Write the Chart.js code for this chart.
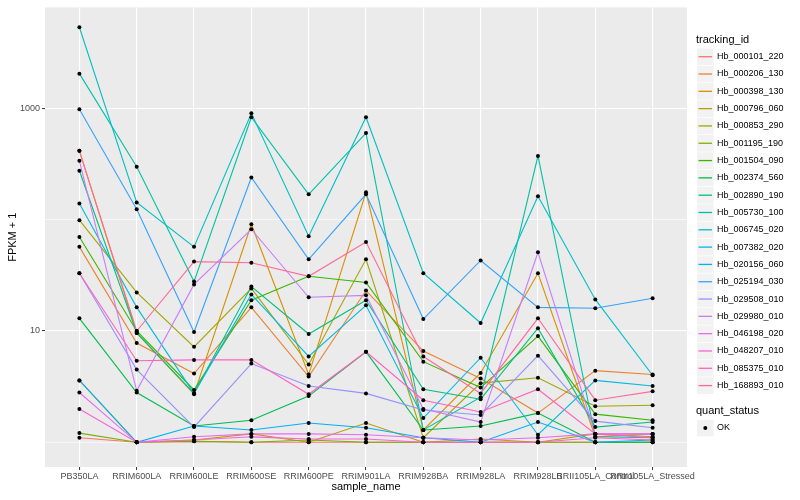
<!DOCTYPE html>
<html>
<head>
<meta charset="utf-8">
<script src="https://cdn.jsdelivr.net/npm/chart.js@4.4.1/dist/chart.umd.min.js"></script>
<style>
  html, body { margin: 0; padding: 0; background: #fff; }
  #wrap { width: 800px; height: 500px; }
</style>
</head>
<body>
<div id="wrap"><canvas id="chart" width="800" height="500"></canvas></div>
<script>
const categories = ['PB350LA', 'RRIM600LA', 'RRIM600LE', 'RRIM600SE', 'RRIM600PE', 'RRIM901LA',
    'RRIM928BA', 'RRIM928LA', 'RRIM928LB', 'RRII105LA_Control', 'RRII105LA_Stressed'];

const trackingIds = ['Hb_000101_220', 'Hb_000206_130', 'Hb_000398_130', 'Hb_000796_060', 'Hb_000853_290',
    'Hb_001195_190', 'Hb_001504_090', 'Hb_002374_560', 'Hb_002890_190', 'Hb_005730_100',
    'Hb_006745_020', 'Hb_007382_020', 'Hb_020156_060', 'Hb_025194_030', 'Hb_029508_010',
    'Hb_029980_010', 'Hb_046198_020', 'Hb_048207_010', 'Hb_085375_010', 'Hb_168893_010'];

// FPKM + 1, one value per sample
const hb000101_220 = [1.10, 1.0, 1.02, 1.0, 1.0, 1.0, 1.0, 1.0, 1.0, 1.0, 1.0];
const hb000206_130 = [57, 7.8, 4.15, 16.3, 3.9, 23.1, 6.6, 3.75, 1.83, 4.4, 4.06];
const hb000398_130 = [415, 9.6, 2.7, 91, 4.06, 176, 1.29, 4.2, 33, 1.12, 1.19];
const hb000796_060 = [3.6, 1.0, 1.05, 1.19, 1.0, 1.49, 1.0, 1.07, 1.0, 1.19, 1.12];
const hb000853_290 = [99, 22.2, 7.2, 24.1, 5.0, 44, 1.10, 3.4, 3.8, 2.11, 2.15];
const hb001195_190 = [1.21, 1.0, 1.02, 1.0, 1.05, 1.0, 1.0, 1.0, 1.0, 1.0, 1.0];
const hb001504_090 = [70, 10, 2.95, 18.9, 31, 27.3, 5.3, 3.1, 9.0, 1.79, 1.58];
const hb002374_560 = [13, 2.8, 1.40, 1.58, 2.6, 6.5, 1.29, 1.40, 1.83, 1.0, 1.0];
const hb002890_190 = [275, 9.6, 2.75, 25.1, 9.4, 18.9, 3.0, 2.44, 10.6, 1.37, 1.52];
const hb005730_100 = [2050, 299, 27.8, 832, 169, 600, 1.29, 2.54, 374, 1.12, 1.10];
const hb006745_020 = [5350, 143, 57, 903, 71, 832, 33, 11.8, 162, 19.2, 4.0];
const hb007382_020 = [140, 16.3, 2.75, 21.3, 5.9, 17.0, 1.65, 5.75, 1.17, 3.6, 3.2];
const hb020156_060 = [3.6, 1.0, 1.40, 1.29, 1.49, 1.35, 1.10, 1.0, 1.52, 1.0, 1.05];
const hb025194_030 = [980, 124, 9.8, 239, 44, 169, 12.8, 43, 16.3, 16.0, 19.7];
const hb029508_010 = [33, 4.5, 1.37, 5.1, 3.2, 2.75, 1.95, 1.76, 6.0, 1.55, 1.35];
const hb029980_010 = [338, 2.9, 26.2, 82, 20.1, 20.9, 1.99, 1.52, 51, 1.19, 1.19];
const hb046198_020 = [2.8, 1.0, 1.12, 1.19, 1.19, 1.17, 1.10, 1.05, 1.10, 1.19, 1.19];
const hb048207_010 = [1.99, 1.0, 1.05, 1.12, 1.07, 1.07, 1.0, 1.0, 1.0, 1.10, 1.05];
const hb085375_010 = [33, 5.4, 5.5, 5.5, 2.7, 6.5, 2.39, 1.87, 3.0, 1.19, 1.10];
const hb168893_010 = [415, 10, 42, 41, 31, 63, 5.9, 2.75, 13, 2.39, 2.87];

const seriesValues = [hb000101_220, hb000206_130, hb000398_130, hb000796_060, hb000853_290,
    hb001195_190, hb001504_090, hb002374_560, hb002890_190, hb005730_100,
    hb006745_020, hb007382_020, hb020156_060, hb025194_030, hb029508_010,
    hb029980_010, hb046198_020, hb048207_010, hb085375_010, hb168893_010];

const yTicks = [1, 10, 100, 1000];
const yLabelled = [10, 1000];

const fontFamily = '"Liberation Sans", Arial, Helvetica, sans-serif';

// ggplot style hue palette (polar LUV, c=100, l=65)
function hcl(h, c, l) {
    const rad = h * Math.PI / 180;
    const u = c * Math.cos(rad), v = c * Math.sin(rad);
    const Xn = 95.047, Yn = 100, Zn = 108.883;
    const un = 4 * Xn / (Xn + 15 * Yn + 3 * Zn);
    const vn = 9 * Yn / (Xn + 15 * Yn + 3 * Zn);
    const Y = Yn * Math.pow((l + 16) / 116, 3);
    const up = u / (13 * l) + un;
    const vp = v / (13 * l) + vn;
    const X = 9 * Y * up / (4 * vp);
    const Z = -X / 3 - 5 * Y + 3 * Y / vp;
    const x = X / 100, y = Y / 100, z = Z / 100;
    let rgb = [
        3.240479 * x - 1.537150 * y - 0.498535 * z,
        -0.969256 * x + 1.875992 * y + 0.041556 * z,
        0.055648 * x - 0.204043 * y + 1.057311 * z
    ];
    rgb = rgb.map(ch => {
        ch = ch <= 0.0031308 ? 12.92 * ch : 1.055 * Math.pow(ch, 1 / 2.4) - 0.055;
        return Math.round(Math.max(0, Math.min(1, ch)) * 255);
    });
    return '#' + rgb.map(ch => ch.toString(16).padStart(2, '0')).join('');
}

const colors = trackingIds.map((id, i) => hcl(15 + i * 360 / trackingIds.length, 100, 65));

const panelBg = {
    id: 'panelBg',
    beforeDraw(chart) {
        const {ctx, chartArea: a} = chart;
        ctx.save();
        ctx.fillStyle = '#EBEBEB';
        ctx.fillRect(a.left, a.top, a.right - a.left, a.bottom - a.top);
        ctx.restore();
    }
};

const sideLegend = {
    id: 'sideLegend',
    afterDraw(chart) {
        const ctx = chart.ctx;
        ctx.save();
        ctx.textBaseline = 'middle';
        ctx.textAlign = 'left';
        ctx.fillStyle = '#000';
        ctx.font = '11px ' + fontFamily;
        ctx.fillText('tracking_id', 696, 39.5);

        for (let i = 0; i < trackingIds.length; i++) {
            const cy = 56.7 + i * 17.31;
            ctx.fillStyle = '#F2F2F2';
            ctx.fillRect(697, cy - 8.2, 16.6, 16.6);
            ctx.strokeStyle = colors[i];
            ctx.lineWidth = 1.3;
            ctx.beginPath();
            ctx.moveTo(698.5, cy);
            ctx.lineTo(712, cy);
            ctx.stroke();
            ctx.fillStyle = '#000';
            ctx.font = '9px ' + fontFamily;
            ctx.fillText(trackingIds[i], 717, cy);
        }

        ctx.font = '11px ' + fontFamily;
        ctx.fillText('quant_status', 696, 411);
        ctx.fillStyle = '#F2F2F2';
        ctx.fillRect(697, 428 - 8.2, 16.6, 16.6);
        ctx.fillStyle = '#000';
        ctx.beginPath();
        ctx.arc(705.3, 428, 2, 0, Math.PI * 2);
        ctx.fill();
        ctx.font = '9px ' + fontFamily;
        ctx.fillText('OK', 717, 428);
        ctx.restore();
    }
};

const lineSets = seriesValues.map((values, i) => ({
    label: trackingIds[i],
    data: values.map((v, j) => ({x: j, y: v})),
    borderColor: colors[i],
    backgroundColor: colors[i],
    borderWidth: 1.1,
    pointRadius: 0,
    fill: false,
    order: seriesValues.length - i + 1
}));

const pointSet = {
    label: 'OK',
    data: seriesValues.flatMap(values => values.map((v, j) => ({x: j, y: v}))),
    showLine: false,
    pointRadius: 2,
    pointBackgroundColor: '#000',
    pointBorderWidth: 0,
    order: 0
};

new Chart(document.getElementById('chart'), {
    type: 'line',
    data: {
        datasets: [...lineSets, pointSet]
    },
    options: {
        responsive: false,
        animation: false,
        layout: { padding: { left: 0, right: 113, top: 6, bottom: 0 } },
        plugins: {
            legend: { display: false },
            tooltip: { enabled: false }
        },
        scales: {
            x: {
                type: 'linear',
                min: -0.6,
                max: 10.6,
                afterBuildTicks: scale => {
                    scale.ticks = categories.map((c, i) => ({value: i}));
                },
                afterFit: scale => { scale.height = 33; },
                ticks: {
                    autoSkip: false,
                    maxRotation: 0,
                    minRotation: 0,
                    padding: 1,
                    color: '#4D4D4D',
                    font: { family: fontFamily, size: 9 },
                    callback: value => categories[value]
                },
                grid: {
                    color: '#FFFFFF',
                    lineWidth: 1.1,
                    tickLength: 3,
                    tickColor: '#333333',
                    tickWidth: 1
                },
                border: { display: false },
                title: {
                    display: true,
                    text: 'sample_name',
                    color: '#000',
                    font: { family: fontFamily, size: 11 },
                    padding: { top: 0, bottom: 6 }
                }
            },
            y: {
                type: 'logarithmic',
                min: 0.644,
                max: 8070,
                afterBuildTicks: scale => {
                    scale.ticks = yTicks.map(v => ({value: v}));
                },
                afterFit: scale => { scale.width = 45; },
                ticks: {
                    padding: 2,
                    color: '#4D4D4D',
                    font: { family: fontFamily, size: 9 },
                    callback: value => yLabelled.includes(value) ? String(value) : ''
                },
                grid: {
                    color: '#FFFFFF',
                    lineWidth: ctx => (ctx.tick && yLabelled.includes(ctx.tick.value)) ? 1.1 : 0.55,
                    tickLength: 3,
                    tickColor: ctx => (ctx.tick && yLabelled.includes(ctx.tick.value)) ? '#333333' : 'rgba(0,0,0,0)',
                    tickWidth: 1
                },
                border: { display: false },
                title: {
                    display: true,
                    text: 'FPKM + 1',
                    color: '#000',
                    font: { family: fontFamily, size: 11 },
                    padding: { top: 6, bottom: 0 }
                }
            }
        }
    },
    plugins: [panelBg, sideLegend]
});
</script>
</body>
</html>
